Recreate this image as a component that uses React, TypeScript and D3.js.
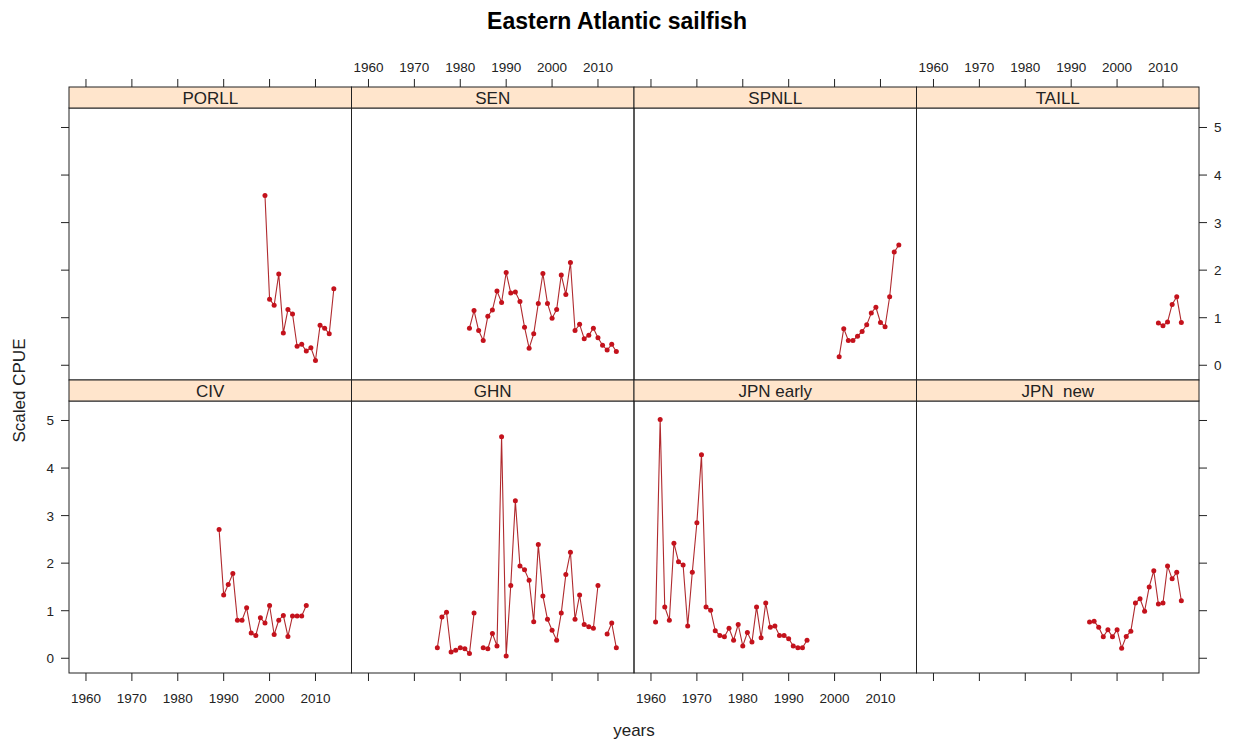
import React, { useEffect, useRef } from "react";
import * as d3 from "d3";

// Eastern Atlantic sailfish, scaled CPUE by fleet (lattice-style panel plot)
const fleets = ["PORLL", "SEN", "SPNLL", "TAILL", "CIV", "GHN", "JPN early", "JPN  new"];
const startYears = [1999, 1982, 2001, 2009, 1989, 1975, 1961, 1994];

const porll = [3.57, 1.39, 1.26, 1.92, 0.68, 1.17, 1.08, 0.40, 0.44, 0.30, 0.37, 0.10, 0.84, 0.78, 0.66, 1.61];
const sen = [0.78, 1.15, 0.73, 0.52, 1.03, 1.16, 1.56, 1.32, 1.95, 1.52, 1.54, 1.34, 0.80, 0.36, 0.66, 1.30,
  1.93, 1.30, 0.99, 1.17, 1.90, 1.49, 2.16, 0.73, 0.86, 0.56, 0.63, 0.78, 0.58, 0.42, 0.32, 0.44, 0.29];
const spnll = [0.18, 0.77, 0.52, 0.52, 0.61, 0.71, 0.85, 1.10, 1.22, 0.90, 0.81, 1.44, 2.38, 2.53];
const taill = [0.89, 0.83, 0.91, 1.28, 1.44, 0.90];
const civ = [2.71, 1.33, 1.55, 1.78, 0.80, 0.80, 1.06, 0.53, 0.48, 0.85, 0.74, 1.11, 0.50, 0.80, 0.90, 0.46,
  0.89, 0.89, 0.89, 1.11];
const ghn = [0.22, 0.87, 0.97, 0.13, 0.17, 0.22, 0.20, 0.10, 0.95, null, 0.22, 0.20, 0.52, 0.26, 4.66, 0.05,
  1.53, 3.31, 1.94, 1.86, 1.64, 0.77, 2.39, 1.31, 0.82, 0.59, 0.38, 0.95, 1.76, 2.23, 0.82, 1.33, 0.71, 0.66,
  0.63, 1.53, null, 0.51, 0.74, 0.22];
const jpnEarly = [0.76, 5.02, 1.08, 0.80, 2.42, 2.03, 1.96, 0.68, 1.81, 2.85, 4.28, 1.08, 1.01, 0.58, 0.48,
  0.45, 0.63, 0.38, 0.71, 0.26, 0.54, 0.34, 1.08, 0.43, 1.16, 0.65, 0.68, 0.48, 0.48, 0.41, 0.26, 0.22, 0.22, 0.38];
const jpnNew = [0.76, 0.78, 0.65, 0.45, 0.60, 0.45, 0.60, 0.21, 0.46, 0.57, 1.16, 1.25, 0.99, 1.50, 1.84, 1.14,
  1.16, 1.94, 1.67, 1.81, 1.21];

const cpue: (number | null)[][] = [porll, sen, spnll, taill, civ, ghn, jpnEarly, jpnNew];

const yearTicks = [1960, 1970, 1980, 1990, 2000, 2010];
const cpueTicks = [0, 1, 2, 3, 4, 5];

const App: React.FC = () => {
  const svgRef = useRef<SVGSVGElement | null>(null);

  useEffect(() => {
    document.body.style.margin = "0";
    if (!svgRef.current) return;
    const svg = d3.select(svgRef.current);
    svg.selectAll("*").remove();

    const font = "'Liberation Sans', Arial, sans-serif";
    const left = 69;
    const right = 1199;
    const stripTop = 87;
    const stripH = 21;
    const panelH = 272;
    const panelW = (right - left) / 4;
    const pointCol = "#c4121c";
    const lineCol = "#b02a2e";

    const x = d3.scaleLinear().domain([1956.3, 2017.85]).range([0, panelW]);
    const y = d3.scaleLinear().domain([-0.31, 5.41]).range([panelH, 0]);

    // main title is centred on the whole page, like lattice does
    svg.append("text")
      .attr("x", 617)
      .attr("y", 29)
      .attr("text-anchor", "middle")
      .attr("font-family", font)
      .attr("font-weight", "bold")
      .attr("font-size", 23)
      .text("Eastern Atlantic sailfish");

    fleets.forEach((name, i) => {
      const row = i < 4 ? 0 : 1;
      const col = i % 4;
      const px = left + col * panelW;
      const sy = stripTop + row * (stripH + panelH);
      const py = sy + stripH;
      const g = svg.append("g").attr("transform", `translate(${px},${py})`);

      // strip
      svg.append("rect")
        .attr("x", px).attr("y", sy)
        .attr("width", panelW).attr("height", stripH)
        .attr("fill", "#ffe5cc")
        .attr("stroke", "#222");
      svg.append("text")
        .attr("x", px + panelW / 2)
        .attr("y", sy + stripH / 2 + 6)
        .attr("text-anchor", "middle")
        .attr("font-family", font)
        .attr("font-size", 17)
        .attr("fill", "#222")
        .style("white-space", "pre")
        .text(name);

      g.append("rect")
        .attr("width", panelW).attr("height", panelH)
        .attr("fill", "none")
        .attr("stroke", "#222");

      const data = cpue[i].map((v, k) => ({ year: startYears[i] + k, v }));

      const line = d3.line<{ year: number; v: number | null }>()
        .defined(d => d.v !== null)
        .x(d => x(d.year))
        .y(d => y(d.v as number));

      g.append("path")
        .datum(data)
        .attr("d", line)
        .attr("fill", "none")
        .attr("stroke", lineCol)
        .attr("stroke-width", 1.1);

      g.selectAll("circle")
        .data(data.filter(d => d.v !== null))
        .enter()
        .append("circle")
        .attr("cx", d => x(d.year))
        .attr("cy", d => y(d.v as number))
        .attr("r", 2.5)
        .attr("fill", pointCol);

      // x axes: alternate labels lattice-style
      if (row === 0) {
        const ax = g.append("g");
        ax.selectAll("line")
          .data(yearTicks).enter().append("line")
          .attr("x1", d => x(d)).attr("x2", d => x(d))
          .attr("y1", -stripH).attr("y2", -stripH - 8)
          .attr("stroke", "#222");
        if (col % 2 === 1) {
          ax.selectAll("text")
            .data(yearTicks).enter().append("text")
            .attr("x", d => x(d))
            .attr("y", -stripH - 15)
            .attr("text-anchor", "middle")
            .attr("font-family", font)
            .attr("font-size", 13.5)
            .attr("fill", "#222")
            .text(d => d);
        }
      } else {
        const ax = g.append("g");
        ax.selectAll("line")
          .data(yearTicks).enter().append("line")
          .attr("x1", d => x(d)).attr("x2", d => x(d))
          .attr("y1", panelH).attr("y2", panelH + 8)
          .attr("stroke", "#222");
        if (col % 2 === 0) {
          ax.selectAll("text")
            .data(yearTicks).enter().append("text")
            .attr("x", d => x(d))
            .attr("y", panelH + 30)
            .attr("text-anchor", "middle")
            .attr("font-family", font)
            .attr("font-size", 13.5)
            .attr("fill", "#222")
            .text(d => d);
        }
      }

      // y axes
      if (col === 0) {
        const ay = g.append("g");
        ay.selectAll("line")
          .data(cpueTicks).enter().append("line")
          .attr("x1", 0).attr("x2", -8)
          .attr("y1", d => y(d)).attr("y2", d => y(d))
          .attr("stroke", "#222");
        if (row === 1) {
          ay.selectAll("text")
            .data(cpueTicks).enter().append("text")
            .attr("x", -15)
            .attr("y", d => y(d) + 5)
            .attr("text-anchor", "end")
            .attr("font-family", font)
            .attr("font-size", 13.5)
            .attr("fill", "#222")
            .text(d => d);
        }
      }
      if (col === 3) {
        const ay = g.append("g");
        ay.selectAll("line")
          .data(cpueTicks).enter().append("line")
          .attr("x1", panelW).attr("x2", panelW + 8)
          .attr("y1", d => y(d)).attr("y2", d => y(d))
          .attr("stroke", "#222");
        if (row === 0) {
          ay.selectAll("text")
            .data(cpueTicks).enter().append("text")
            .attr("x", panelW + 15)
            .attr("y", d => y(d) + 5)
            .attr("text-anchor", "start")
            .attr("font-family", font)
            .attr("font-size", 13.5)
            .attr("fill", "#222")
            .text(d => d);
        }
      }
    });

    svg.append("text")
      .attr("x", (left + right) / 2)
      .attr("y", 736)
      .attr("text-anchor", "middle")
      .attr("font-family", font)
      .attr("font-size", 17)
      .attr("fill", "#222")
      .text("years");

    const midY = stripTop + stripH + (2 * panelH + stripH) / 2;
    svg.append("text")
      .attr("transform", `translate(25,${midY}) rotate(-90)`)
      .attr("text-anchor", "middle")
      .attr("font-family", font)
      .attr("font-size", 17)
      .attr("fill", "#222")
      .text("Scaled CPUE");
  }, []);

  return (
    <svg ref={svgRef} width={1234} height={740}
      style={{ display: "block", background: "#fff" }} />
  );
};

export default App;
